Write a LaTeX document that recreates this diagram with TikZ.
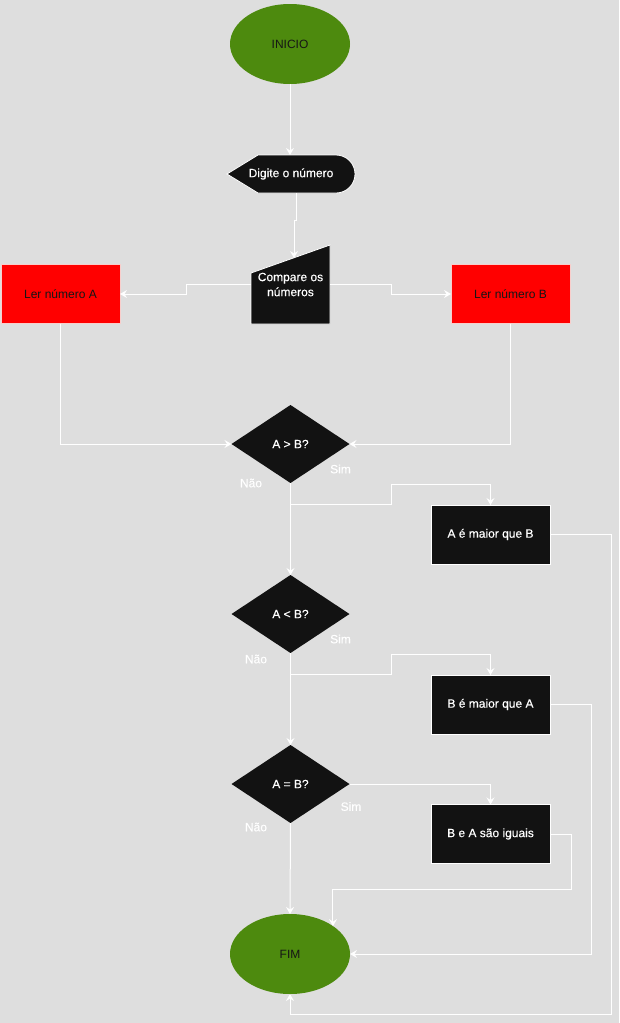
\documentclass[tikz,border=0pt]{standalone}
\usepackage{fontspec}
\setmainfont{Liberation Sans}
\newfontfamily\lighttext[FakeBold=0.35]{Liberation Sans}
\usetikzlibrary{shapes.geometric,arrows.meta,calc}
\definecolor{bg}{HTML}{DEDEDE}
\definecolor{term}{HTML}{4D8A0E}
\definecolor{ink}{HTML}{121212}
\definecolor{redbox}{HTML}{FF0000}
\definecolor{redline}{HTML}{F8CECC}
\definecolor{darktext}{HTML}{161616}

\begin{document}
\begin{tikzpicture}[x=1pt,y=-1pt,
  font=\fontsize{12}{15}\selectfont,
  terminal/.style={ellipse, fill=term, minimum width=120pt, minimum height=80pt,
    inner sep=0pt, outer sep=0pt, text=darktext},
  inputbox/.style={rectangle, fill=redbox, draw=redline, line width=0.8pt,
    minimum width=119pt, minimum height=59pt, inner sep=0pt, outer sep=0pt, text=darktext},
  procbox/.style={rectangle, fill=ink, draw=white, line width=0.8pt,
    minimum width=119pt, minimum height=59pt, inner sep=0pt, outer sep=0pt, text=white,
    font=\lighttext\fontsize{12}{15}\selectfont},
  decision/.style={diamond, fill=ink, minimum width=118pt, minimum height=78pt,
    inner sep=0pt, outer sep=0pt, text=white, font=\lighttext\fontsize{12}{15}\selectfont},
  shapetext/.style={rectangle, inner sep=0pt, outer sep=0pt, text=white, align=center,
    font=\lighttext\fontsize{12}{15}\selectfont},
  elabel/.style={text=white, inner sep=0pt, font=\lighttext\fontsize{12}{15}\selectfont},
  link/.style={draw=white, line width=1pt, -{Stealth[length=7pt,width=8pt,inset=2.5pt]}}
]
% canvas
\fill[bg] (0,0) rectangle (619,1023);
\useasboundingbox (0,0) rectangle (619,1023);

% start / end
\node[terminal] (ini) at (290,44) {INICIO};
\node[terminal] (fim) at (290,954) {FIM};

% display shape
\filldraw[fill=ink, draw=white, line width=0.8pt]
  (227,174) -- (258,155) -- (336,155) arc (-90:90:19) -- (258,193) -- cycle;
\node[shapetext, minimum width=128pt, minimum height=38pt] (disp) at (291,174) {Digite o número};

% manual input shape
\filldraw[fill=ink, draw=white, line width=0.8pt]
  (251,273) -- (330,245) -- (330,324) -- (251,324) -- cycle;
\node[shapetext, minimum width=79pt, minimum height=79pt] (cmp) at (290.5,284.5) {Compare os\\números};
\coordinate (cmpin) at (294,258);

% read boxes
\node[inputbox] (inA) at (60.5,294) {Ler número A};
\node[inputbox] (inB) at (510.5,294) {Ler número B};

% decisions
\node[decision] (d1) at (290.5,444) {A > B?};
\node[decision] (d2) at (290.5,614) {A < B?};
\node[decision] (d3) at (290.5,784) {A = B?};

% results
\node[procbox] (ab) at (490.5,534.5) {A é maior que B};
\node[procbox] (ba) at (490.5,704.5) {B é maior que A};
\node[procbox] (eq) at (490.5,834) {B e A são iguais};

% edge labels
\node[elabel] (s1) at (340.5,469) {Sim};
\node[elabel] (n1) at (251,483) {Não};
\node[elabel] (s2) at (340.5,639) {Sim};
\node[elabel] (n2) at (256,659) {Não};
\node[elabel] (s3) at (351,806.5) {Sim};
\node[elabel] (n3) at (256,827) {Não};

% connectors
\draw[link] (ini.south) -- (ini.south |- disp.north);
\draw[link] (disp.south) ++(5,0) -- ++(0,27) -| (cmpin);
\draw[link] (cmp.west) -- ++(-65,0) |- (inA.east);
\draw[link] (cmp.east) -- ++(61,0) |- (inB.west);
\draw[link] (inA.south) |- (d1.west);
\draw[link] (inB.south) |- (d1.east);

\draw[link] (d1.south) -- (290.5,504) -| (391,484) -| (ab.north);
\draw[link] (d1.south) -- (d2.north);
\draw[link] (d2.south) -- (290.5,674) -| (391,654) -| (ba.north);
\draw[link] (d2.south) -- (d3.north);
\draw[link] (d3.east) -| (eq.north);
\draw[link] (d3.south) -- (fim.north);

\draw[link] (ab.east) -- (611,534.5) -- (611,1014) -| (fim.south);
\draw[link] (ba.east) -- (591,704.5) |- (fim.east);
\draw[link] (eq.east) -- (571,834) -- (571,889) -| (fim.33);
\end{tikzpicture}
\end{document}
